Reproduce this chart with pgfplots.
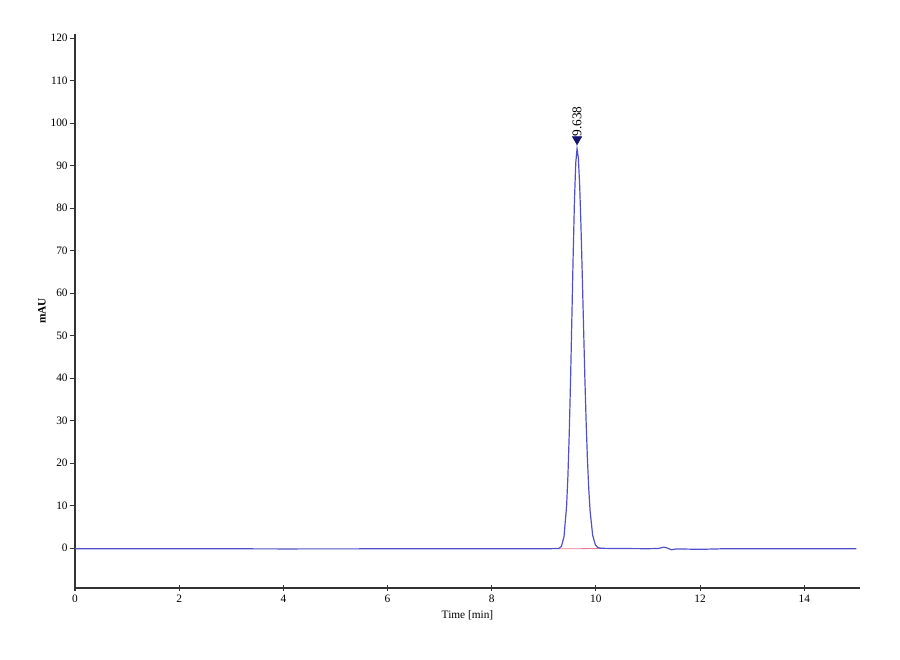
\documentclass[border=0pt]{standalone}
\usepackage{pgfplots}
\pgfplotsset{compat=1.18}
\usepackage{fontspec}
\setmainfont{Liberation Serif}

\definecolor{trace}{RGB}{80,80,205}
\definecolor{basefit}{RGB}{235,120,150}
\definecolor{marker}{RGB}{20,20,110}

\begin{document}
\begin{tikzpicture}
% 1px = 0.75pt, page 900x660 px
\useasboundingbox (-56.25pt,-54pt) rectangle (618.75pt,441pt);
\begin{axis}[
    scale only axis,
    width=588.75pt,
    height=415.5pt,
    xmin=0, xmax=15.07,
    ymin=-9.4, ymax=121,
    axis x line=bottom,
    axis y line=left,
    axis line style={-, line width=0.8pt, black!80},
    xtick={0,2,...,14},
    ytick={0,10,...,120},
    tick style={line width=0.8pt, black!80},
    major tick length=4pt,
    y tick style={/pgfplots/tick align=outside},
    x tick style={/pgfplots/tick align=center},
    minor tick num=0,
    tick label style={font=\fontsize{8.5}{9}\selectfont},
    /pgf/number format/assume math mode=true,
    xlabel={Time [min]},
    ylabel={\textbf{mAU}},
    label style={font=\fontsize{8.5}{9}\selectfont},
    xlabel style={at={(axis description cs:0.5,-0.05)}, anchor=center},
    ylabel style={at={(axis description cs:-0.042,0.5)}, anchor=center},
    clip=false,
]
% integration baseline
\addplot[basefit, line width=0.6pt] coordinates {(9.30,-0.18) (10.10,-0.10)};
% chromatogram trace
\addplot[trace, line width=0.9pt] coordinates {
(0,-0.15) (2,-0.15) (4,-0.2) (6,-0.18) (8,-0.18) (9.0,-0.18)
(9.288,-0.1) (9.338,0.4) (9.388,2.7) (9.438,10.0) (9.463,17.0) (9.488,26.8)
(9.513,39.3) (9.538,53.8) (9.563,68.6) (9.588,81.7) (9.613,90.6) (9.638,94.0)
(9.663,91.8) (9.688,85.5) (9.713,76.0) (9.738,64.4) (9.763,52.1) (9.788,40.1)
(9.813,29.5) (9.838,20.7) (9.863,13.9) (9.888,8.8) (9.938,3.0) (9.988,0.8)
(10.038,0.1) (10.1,-0.05) (10.3,-0.1) (10.6,-0.12) (11.0,-0.15) (11.2,-0.1)
(11.3,0.2) (11.35,0.1) (11.45,-0.4) (11.55,-0.2) (12.0,-0.3) (12.5,-0.15)
(13,-0.15) (14,-0.15) (15,-0.15)
};
% peak label
\addplot[only marks, mark=triangle*, mark size=4pt, marker,
    mark options={rotate=180, fill=marker},
    nodes near coords={9.638},
    every node near coord/.append style={rotate=90, anchor=west, black,
        font=\fontsize{10}{11}\selectfont, inner sep=1pt, xshift=1pt}]
    coordinates {(9.638,96.2)};
\end{axis}
\end{tikzpicture}
\end{document}
